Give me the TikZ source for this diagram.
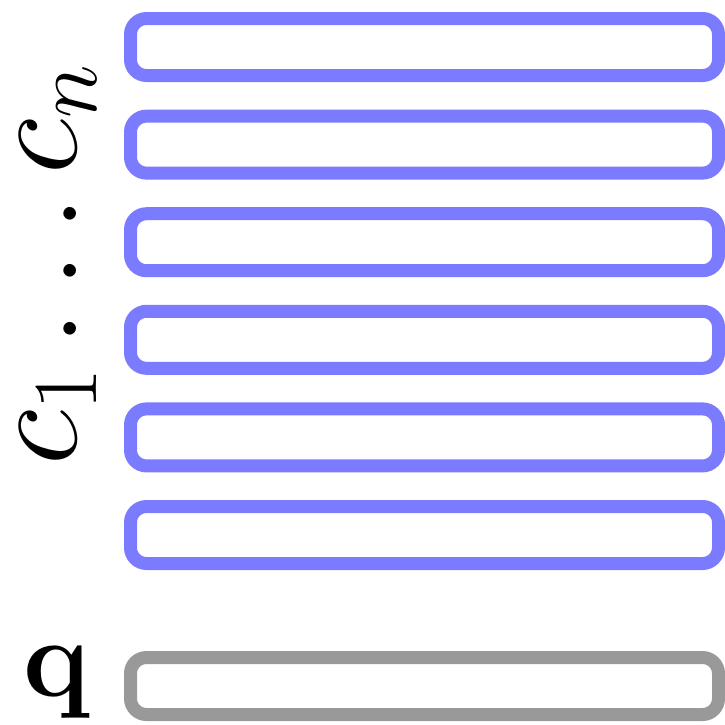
\documentclass[tikz,border=0pt]{standalone}
\usepackage{fix-cm}
\usepackage{tikz}
\usetikzlibrary{positioning}
\definecolor{SlotBlue}{HTML}{7B7BFF}
\definecolor{SlotGray}{HTML}{999999}

\begin{document}
\begin{tikzpicture}[
  node distance=0.812cm,
  slot/.style={draw=#1, line width=0.26cm, rounded corners=0.32cm, minimum width=11.76cm, minimum height=1.14cm, outer sep=0pt, inner sep=0pt},
  bigmath/.style={font=\fontsize{#1}{#1}\selectfont, inner sep=0pt}
]
\useasboundingbox (0,0) rectangle (14.5,-14.48);
\node[slot=SlotBlue] (c1) at (8.49,-0.94) {};
\node[slot=SlotBlue, below=of c1] (c2) {};
\node[slot=SlotBlue, below=of c2] (c3) {};
\node[slot=SlotBlue, below=of c3] (c4) {};
\node[slot=SlotBlue, below=of c4] (c5) {};
\node[slot=SlotBlue, below=of c5] (c6) {};
\node[slot=SlotGray, below=1.88cm of c6] (query) {};

\node[bigmath=74.5, rotate=90] (keys) at (1.16,-5.3) {$c_1 \ldots c_n$};
\node[bigmath=64] (qlabel) at (1.14,-13.64) {$\mathbf{q}$};
\end{tikzpicture}
\end{document}
